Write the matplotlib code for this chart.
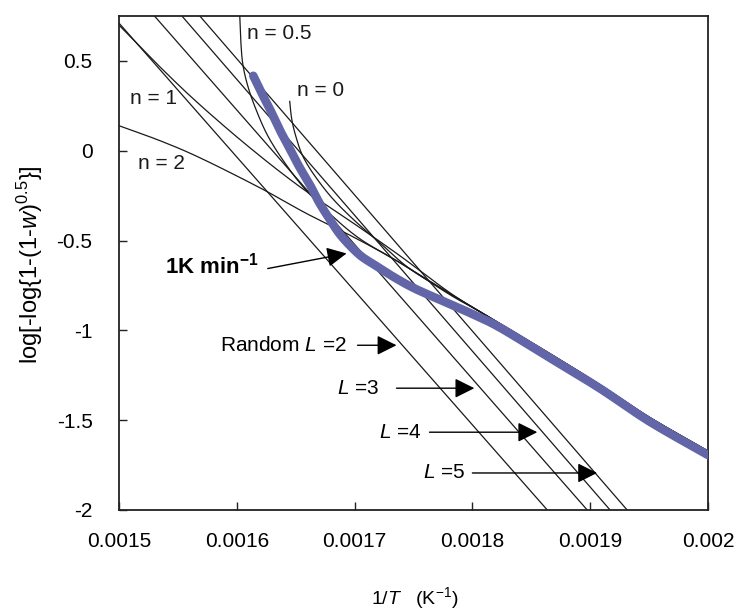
import numpy as np
import matplotlib
matplotlib.use("Agg")
import matplotlib.pyplot as plt

plt.rcParams['font.family'] = ['Liberation Sans', 'DejaVu Sans']
plt.rcParams['mathtext.fontset'] = 'custom'
plt.rcParams['mathtext.rm'] = 'Liberation Sans'
plt.rcParams['mathtext.it'] = 'Liberation Sans:italic'
plt.rcParams['mathtext.bf'] = 'Liberation Sans:bold'

# ---- axis ranges and ticks ----
x_lim = (0.0015, 0.0020)
y_lim = (-2.0, 0.75)
x_ticks = [0.0015, 0.0016, 0.0017, 0.0018, 0.0019, 0.0020]
x_tick_labels = ['0.0015', '0.0016', '0.0017', '0.0018', '0.0019', '0.002']
y_ticks = [-2.0, -1.5, -1.0, -0.5, 0.0, 0.5]
y_tick_labels = ['-2', '-1.5', '-1', '-0.5', '0', '0.5']

# ---- measured curve, heating rate 1 K/min ----
exp_x = [0.001614, 0.001621, 0.001628, 0.001636, 0.001645, 0.001653, 0.001662,
         0.001670, 0.001679, 0.001687, 0.001696, 0.001706, 0.001719, 0.001734,
         0.001751, 0.001772, 0.001797, 0.001823, 0.001865, 0.001908, 0.001950,
         0.002000]
exp_y = [0.417, 0.322, 0.233, 0.122, 0.011, -0.089, -0.189, -0.289, -0.383,
         -0.461, -0.528, -0.589, -0.644, -0.706, -0.767, -0.828, -0.900,
         -0.983, -1.150, -1.322, -1.506, -1.694]

# ---- reaction-order model curves (shared low-temperature tail) ----
tail_x = [0.0018059, 0.0018229, 0.0018653, 0.0019076, 0.0019500, 0.0020000]
tail_y = [-0.894, -0.961, -1.128, -1.300, -1.483, -1.672]

n0_x = [0.0016449, 0.0016466, 0.0016500, 0.0016559, 0.0016661, 0.0016814,
        0.0017000, 0.0017212, 0.0017466, 0.0017805]
n0_y = [0.278, 0.178, 0.083, -0.028, -0.139, -0.267, -0.389, -0.511, -0.656, -0.794]

n05_x = [0.0016025, 0.0016034, 0.0016051, 0.0016093, 0.0016161, 0.0016263,
         0.0016407, 0.0016576, 0.0016788, 0.0017042, 0.0017381, 0.0017805]
n05_y = [0.756, 0.611, 0.483, 0.361, 0.233, 0.083, -0.067, -0.211, -0.350,
         -0.489, -0.622, -0.794]

n1_x = [0.0014966, 0.0015347, 0.0015686, 0.0016110, 0.0016534, 0.0016958,
        0.0017381, 0.0017805]
n1_y = [0.722, 0.467, 0.256, 0.017, -0.200, -0.389, -0.583, -0.789]

n2_x = [0.0015000, 0.0015347, 0.0015686, 0.0016195, 0.0016593, 0.0016983,
        0.0017381, 0.0017805]
n2_y = [0.139, 0.056, -0.039, -0.206, -0.350, -0.478, -0.622, -0.800]

# ---- random scission lines: x where each line meets y = 0.75 and y = -2 ----
random_L = [2, 3, 4, 5]
L_x_top = [0.0014947, 0.0015301, 0.0015534, 0.0015686]
L_x_bottom = [0.0018636, 0.0018975, 0.0019169, 0.0019314]
L_y_ends = [0.75, -2.0]


def catmull_rom(xs, ys, steps=16):
    """Smooth parametric curve through the given points (in scaled space)."""
    xs = np.asarray(xs, float)
    ys = np.asarray(ys, float)
    sx = (x_lim[1] - x_lim[0])
    sy = (y_lim[1] - y_lim[0])
    P = np.column_stack([(xs - x_lim[0]) / sx, (ys - y_lim[0]) / sy])
    P = np.vstack([2 * P[0] - P[1], P, 2 * P[-1] - P[-2]])
    out = []
    for i in range(1, len(P) - 2):
        p0, p1, p2, p3 = P[i - 1], P[i], P[i + 1], P[i + 2]
        t = np.linspace(0, 1, steps, endpoint=False)[:, None]
        seg = 0.5 * ((2 * p1) + (-p0 + p2) * t + (2 * p0 - 5 * p1 + 4 * p2 - p3) * t ** 2
                     + (-p0 + 3 * p1 - 3 * p2 + p3) * t ** 3)
        out.append(seg)
    out.append(P[-2][None, :])
    out = np.vstack(out)
    return out[:, 0] * sx + x_lim[0], out[:, 1] * sy + y_lim[0]


fig = plt.figure(figsize=(7.39, 6.14), dpi=100)
ax = fig.add_axes([0.161, 0.1694, 0.797, 0.8046])
ax.set_xlim(*x_lim)
ax.set_ylim(*y_lim)

line_kw = dict(color='#1a1a1a', lw=0.9, solid_capstyle='butt')

# random scission lines
for xt, xb in zip(L_x_top, L_x_bottom):
    ax.plot([xt, xb], L_y_ends, **line_kw)

# model curves
for cx, cy in [(n0_x, n0_y), (n05_x, n05_y), (n1_x, n1_y), (n2_x, n2_y)]:
    sx, sy = catmull_rom(list(cx) + tail_x, list(cy) + tail_y)
    ax.plot(sx, sy, **line_kw)

# measured curve
ex, ey = catmull_rom(exp_x, exp_y)
ax.plot(ex, ey, color='#6266a8', lw=6.2, solid_capstyle='round', zorder=3)

# curve labels
lab_kw = dict(fontsize=15, va='center', ha='left', color='#1a1a1a')
ax.text(0.0016085, 0.650, 'n = 0.5', **lab_kw)
ax.text(0.0016508, 0.333, 'n = 0', **lab_kw)
ax.text(0.0015093, 0.289, 'n = 1', **lab_kw)
ax.text(0.0015161, -0.072, 'n = 2', **lab_kw)

arrow = dict(arrowstyle='-|>', color='black', lw=1.0, mutation_scale=30,
             shrinkA=0, shrinkB=0)

ax.annotate('', xy=(0.0016932, -0.572), xytext=(0.0016263, -0.656), arrowprops=arrow)
ax.text(0.0016190, -0.640, r'$\mathbf{1K\ min^{-1}}$', fontsize=16,
        ha='right', va='center', fontweight='bold')

ax.annotate('', xy=(0.0017356, -1.083), xytext=(0.0017025, -1.083), arrowprops=arrow)
ax.text(0.0016932, -1.083, r'Random $L$ =2', fontsize=15, ha='right', va='center')

ax.annotate('', xy=(0.0018017, -1.322), xytext=(0.0017356, -1.322), arrowprops=arrow)
ax.text(0.0017212, -1.322, r'$L$ =3', fontsize=15, ha='right', va='center')

ax.annotate('', xy=(0.0018551, -1.567), xytext=(0.0017636, -1.567), arrowprops=arrow)
ax.text(0.0017568, -1.567, r'$L$ =4', fontsize=15, ha='right', va='center')

ax.annotate('', xy=(0.0019059, -1.794), xytext=(0.0018000, -1.794), arrowprops=arrow)
ax.text(0.0017941, -1.794, r'$L$ =5', fontsize=15, ha='right', va='center')

# axes styling
ax.set_xticks(x_ticks)
ax.set_xticklabels(x_tick_labels)
ax.set_yticks(y_ticks)
ax.set_yticklabels(y_tick_labels)
ax.tick_params(direction='in', length=6, width=1.0, labelsize=15, color='#222222')
ax.tick_params(axis='x', pad=16)
ax.tick_params(axis='y', pad=19)
for s in ax.spines.values():
    s.set_linewidth(1.3)
    s.set_color('#222222')

fig.text(30 / 739, 1 - 265 / 614, r'log[-log{1-(1-$w$)$^{0.5}$}]', rotation=90,
         ha='center', va='center', fontsize=17)
fig.text(415 / 739, 1 - 598 / 614, r'1/$T$   (K$^{-1}$)', ha='center', va='center',
         fontsize=14)

fig.savefig('out.png', dpi=100, facecolor='white')
